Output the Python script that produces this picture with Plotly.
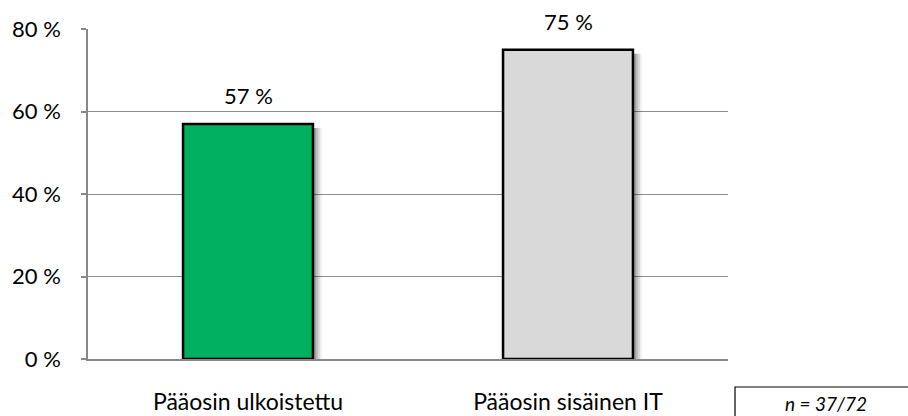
import plotly.graph_objects as go

categories = ["Pääosin ulkoistettu", "Pääosin sisäinen IT"]
values = [57, 75]
value_labels = ["57 %", "75 %"]
colors = ["#00B060", "#D9D9D9"]
tick_vals = [0, 20, 40, 60, 80]
tick_text = ["0 %", "20 %", "40 %", "60 %", "80 %"]
note = "n = 37/72"

FONT = "Lato, Carlito, Calibri, sans-serif"
L, R, T, B = 88, 180, 29, 57
W, H = 908, 416
pw, ph = W - L - R, H - T - B

fig = go.Figure()

# soft shadow layers to the right of the bars
for dx, op in [(0.028, 0.06), (0.022, 0.09), (0.016, 0.12), (0.010, 0.16)]:
    fig.add_trace(go.Bar(
        x=[0, 1], y=[v - 1.0 for v in values], width=0.406, offset=-0.203 + dx,
        marker=dict(color=f"rgba(0,0,0,{op})", line=dict(width=0)),
        hoverinfo="skip", showlegend=False))

fig.add_trace(go.Bar(
    x=[0, 1], y=values, width=0.406, offset=-0.203,
    marker=dict(color=colors, line=dict(color="black", width=2.5)),
    showlegend=False, cliponaxis=False))

for i, (v, lab) in enumerate(zip(values, value_labels)):
    fig.add_annotation(x=i, y=v, text=lab, showarrow=False, yanchor="bottom",
                       yshift=13, font=dict(size=22, color="black", family=FONT))

# n box
x0 = (735 - L) / pw
x1 = (915 - L) / pw
y0 = (H - B - 420) / ph
y1 = (H - B - 387) / ph
fig.add_shape(type="rect", xref="paper", yref="paper", x0=x0, x1=x1, y0=y0, y1=y1,
              line=dict(color="black", width=1.2), fillcolor="white", layer="above")
fig.add_annotation(xref="paper", yref="paper", x=(826 - L) / pw, y=(H - B - 403) / ph,
                   text=f"<i>{note}</i>", showarrow=False, xanchor="center", yanchor="middle",
                   font=dict(size=19, color="black", family=FONT))

fig.update_layout(
    width=W, height=H,
    margin=dict(l=L, r=R, t=T, b=B, autoexpand=False),
    paper_bgcolor="white", plot_bgcolor="white",
    barmode="overlay",
    xaxis=dict(tickmode="array", tickvals=[0, 1], ticktext=categories, automargin=False,
               range=[-0.5, 1.5], showgrid=False, showline=True, linecolor="#888888",
               linewidth=1.5, ticks="", ticklabelstandoff=22,
               tickfont=dict(size=23, color="black", family=FONT), zeroline=False),
    yaxis=dict(range=[0, 80], tickmode="array", tickvals=tick_vals, ticktext=tick_text,
               automargin=False,
               showgrid=True, gridcolor="#8C8C8C", gridwidth=1, showline=True,
               linecolor="#888888", linewidth=1.5, ticks="outside", ticklen=5,
               tickcolor="#888888", tickwidth=1.5, ticklabelstandoff=16,
               tickfont=dict(size=22, color="black", family=FONT), zeroline=False),
    font=dict(family=FONT),
)

fig.write_html("out.html", config={"displayModeBar": False},
               post_script="document.body.style.margin='0';document.body.style.overflow='hidden';")
